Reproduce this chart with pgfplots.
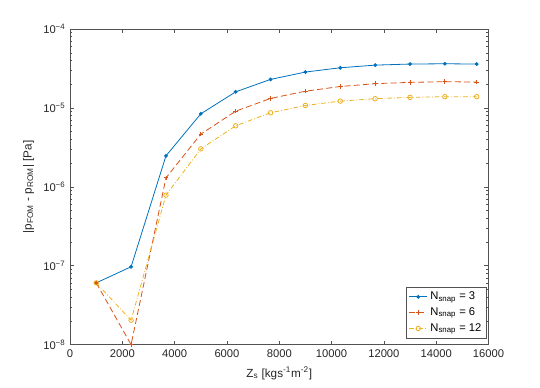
\documentclass[border=0pt]{standalone}
\usepackage{pgfplots}
\pgfplotsset{compat=1.18}
\usepackage{fontspec}
\setmainfont{Liberation Sans}

\definecolor{mblue}{rgb}{0,0.447,0.741}
\definecolor{mred}{rgb}{0.85,0.325,0.098}
\definecolor{myellow}{rgb}{0.929,0.694,0.125}
\definecolor{axgray}{rgb}{0.15,0.15,0.15}

\begin{document}
\begin{tikzpicture}
\begin{axis}[
    name=ax,
    at={(0,0)}, anchor=south west,
    scale only axis,
    width=313.5pt, height=236.5pt,
    ymode=log,
    xmin=0, xmax=16000,
    ymin=1e-8, ymax=1e-4,
    xtick={0,2000,...,16000},
    scaled x ticks=false,
    ytick={1e-8,1e-7,1e-6,1e-5,1e-4},
    yticklabels={10\textsuperscript{−8},10\textsuperscript{−7},10\textsuperscript{−6},10\textsuperscript{−5},10\textsuperscript{−4}},
    xticklabel style={/pgf/number format/1000 sep={}, /pgf/number format/assume math mode=true},
    tick label style={font=\fontsize{8.4}{10}\selectfont, text=axgray},
    label style={font=\fontsize{8.8}{10.5}\selectfont, text=axgray},
    xlabel={Z\textsubscript{s} [kgs\textsuperscript{-1}m\textsuperscript{-2}]},
    ylabel={|p\textsubscript{FOM} - p\textsubscript{ROM}| [Pa]},
    axis line style={axgray!80, line width=0.5pt},
    every tick/.style={axgray!80, line width=0.4pt},
    tick align=inside,
    major tick length=3pt,
    minor tick length=1.6pt,
    clip=true,
    legend cell align=left,
    legend style={font=\fontsize{8.4}{10.5}\selectfont, draw=axgray!80, line width=0.4pt,
        at={(0.995,0.02)}, anchor=south east, inner sep=1.5pt, row sep=0.5pt},
    legend image code/.code={
        \draw[mark repeat=2, mark phase=2] plot coordinates {(0cm,0cm) (0.24cm,0cm) (0.48cm,0cm)};},
    legend image post style={line width=0.6pt},
]

\addplot[color=mblue, line width=0.6pt, mark=*, mark size=1.1pt]
    coordinates {
    (1000,6.07e-8)(2333,9.7e-8)(3667,2.47e-6)(5000,8.43e-6)(6333,1.60e-5)(7667,2.30e-5)
    (9000,2.85e-5)(10333,3.23e-5)(11667,3.49e-5)(13000,3.60e-5)(14333,3.63e-5)(15550,3.60e-5)
    };

\addplot[color=mred, line width=0.6pt, dash pattern=on 4.5pt off 2.4pt, mark=+, mark size=1.7pt,
    mark options={solid}]
    coordinates {
    (1000,6.07e-8)(2333,1.0e-8)(3667,1.30e-6)(5000,4.66e-6)(6333,9.1e-6)(7667,1.32e-5)
    (9000,1.63e-5)(10333,1.87e-5)(11667,2.03e-5)(13000,2.11e-5)(14333,2.15e-5)(15550,2.13e-5)
    };

\addplot[color=myellow, line width=0.6pt, dash pattern=on 3.5pt off 1.5pt on 0.6pt off 1.5pt,
    mark=o, mark size=1.7pt, mark options={solid}]
    coordinates {
    (1000,6.07e-8)(2333,2.04e-8)(3667,7.85e-7)(5000,3.03e-6)(6333,5.94e-6)(7667,8.69e-6)
    (9000,1.075e-5)(10333,1.22e-5)(11667,1.31e-5)(13000,1.36e-5)(14333,1.39e-5)(15550,1.39e-5)
    };

\legend{N\textsubscript{snap} = 3, N\textsubscript{snap} = 6, N\textsubscript{snap} = 12}
\end{axis}
\pgfresetboundingbox
\path[use as bounding box] ([xshift=-52.5pt,yshift=-32pt]ax.south west) rectangle ([xshift=38.6pt,yshift=21.75pt]ax.north east);
\end{tikzpicture}
\end{document}
